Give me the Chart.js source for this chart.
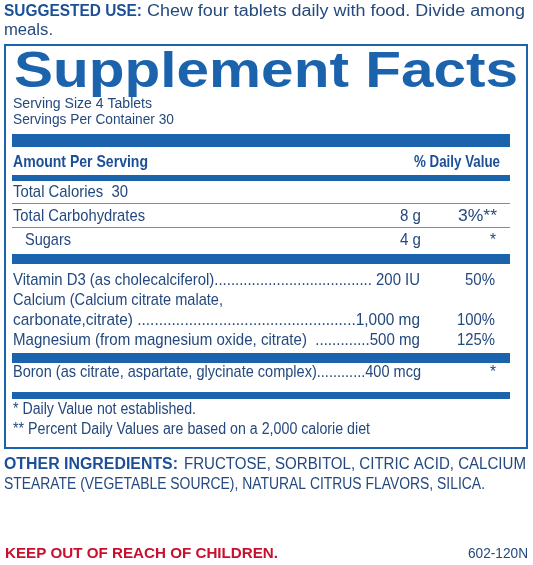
<!DOCTYPE html>
<html><head><meta charset="utf-8">
<script src="https://cdn.jsdelivr.net/npm/chart.js@4"></script>
<style>html,body{margin:0;padding:0;background:#fff}canvas{display:block}</style>
</head><body>
<canvas id="label" width="533" height="565"></canvas>
<script>
// label rows: name, amount, daily value
const nutrientNames = ["Total Calories  30", "Total Carbohydrates", "  Sugars"];
const nutrientAmounts = ["", "8 g", "4 g"];
const nutrientDV = ["", "3%**", "*"];
const vitaminLines = [
  ["Vitamin D3 (as cholecalciferol)...................................... 200 IU", "50%"],
  ["Calcium (Calcium citrate malate,", ""],
  ["carbonate,citrate) ...................................................1,000 mg", "100%"],
  ["Magnesium (from magnesium oxide, citrate)  .............500 mg", "125%"]
];
const boronLine = ["Boron (as citrate, aspartate, glycinate complex)............400 mcg", "*"];
const footnotes = ["* Daily Value not established.", "** Percent Daily Values are based on a 2,000 calorie diet"];

const BLUE = "#1b63ad", TXT = "#24497e", HEAD = "#1b4f98";
const S = "'Liberation Sans', Arial, sans-serif";
const F = "17px " + S;

function txt(ctx, s, x, y, font, color, w) {
  ctx.save();
  ctx.font = font; ctx.fillStyle = color; ctx.textBaseline = "middle";
  const m = ctx.measureText(s).width;
  ctx.translate(x, y); ctx.scale(w / m, 1);
  ctx.fillText(s, 0, 0);
  ctx.restore();
}

const labelPlugin = {
  id: "labelPanel",
  afterDraw(chart) {
    const ctx = chart.ctx;
    ctx.save();
    ctx.fillStyle = "#fff"; ctx.fillRect(0, 0, 533, 565);
    txt(ctx, "SUGGESTED USE:", 4, 12, "bold 16px " + S, HEAD, 138);
    txt(ctx, "Chew four tablets daily with food. Divide among", 147, 12, "16px " + S, TXT, 378);
    txt(ctx, "meals.", 4, 31, "16px " + S, TXT, 49);
    ctx.strokeStyle = BLUE; ctx.lineWidth = 2;
    ctx.strokeRect(5, 45, 522, 403);
    txt(ctx, "Supplement Facts", 14, 73, "900 50px " + S, BLUE, 504);
    txt(ctx, "Serving Size 4 Tablets", 13, 104, "14px " + S, TXT, 139);
    txt(ctx, "Servings Per Container 30", 13, 120, "14px " + S, TXT, 161);
    ctx.fillStyle = BLUE;
    [[134, 13], [175, 6], [254, 10], [353, 10], [392, 7]].forEach(b => ctx.fillRect(12, b[0], 498, b[1]));
    txt(ctx, "Amount Per Serving", 13, 162, "bold 17px " + S, HEAD, 135);
    txt(ctx, "% Daily Value", 414, 162, "bold 17px " + S, HEAD, 86);
    const rowY = [192, 216, 240];
    nutrientNames.forEach((n, i) => {
      txt(ctx, n.trim(), n.startsWith("  ") ? 25 : 13, rowY[i], F, TXT, [115, 132, 46][i]);
      if (nutrientAmounts[i]) txt(ctx, nutrientAmounts[i], 400, rowY[i], F, TXT, 21);
      if (nutrientDV[i]) {
        const star = nutrientDV[i] === "*";
        txt(ctx, nutrientDV[i], star ? 490 : 458, rowY[i], F, TXT, star ? 6 : 39);
      }
    });
    ctx.fillStyle = "#6f8fb8";
    ctx.fillRect(12, 203, 498, 1); ctx.fillRect(12, 227, 498, 1);
    const vy = [280, 300, 320, 340];
    const vw = [407, 210, 407, 407];
    const dvx = [465, 0, 457, 457];
    vitaminLines.forEach((v, i) => {
      txt(ctx, v[0], 13, vy[i], F, TXT, vw[i]);
      if (v[1]) txt(ctx, v[1], dvx[i], vy[i], F, TXT, 495 - dvx[i]);
    });
    txt(ctx, boronLine[0], 13, 372, F, TXT, 408);
    txt(ctx, boronLine[1], 490, 372, F, TXT, 6);
    txt(ctx, footnotes[0], 13, 410, "16px " + S, TXT, 183);
    txt(ctx, footnotes[1], 13, 430, "16px " + S, TXT, 357);
    txt(ctx, "OTHER INGREDIENTS:", 4, 465, "bold 16px " + S, HEAD, 174);
    txt(ctx, "FRUCTOSE, SORBITOL, CITRIC ACID, CALCIUM", 184, 465, "16px " + S, TXT, 342);
    txt(ctx, "STEARATE (VEGETABLE SOURCE), NATURAL CITRUS FLAVORS, SILICA.", 4, 485, "16px " + S, TXT, 481);
    txt(ctx, "KEEP OUT OF REACH OF CHILDREN.", 5, 554, "bold 15px " + S, "#c8102e", 273);
    txt(ctx, "602-120N", 468, 554, "14px " + S, TXT, 60);
    ctx.restore();
  }
};

new Chart(document.getElementById("label").getContext("2d"), {
  type: "bar",
  data: { labels: nutrientNames, datasets: [{ data: [0, 0, 0] }] },
  options: {
    responsive: false, animation: false,
    plugins: { legend: { display: false }, tooltip: { enabled: false } },
    scales: { x: { display: false }, y: { display: false } }
  },
  plugins: [labelPlugin]
});
</script>
</body></html>
